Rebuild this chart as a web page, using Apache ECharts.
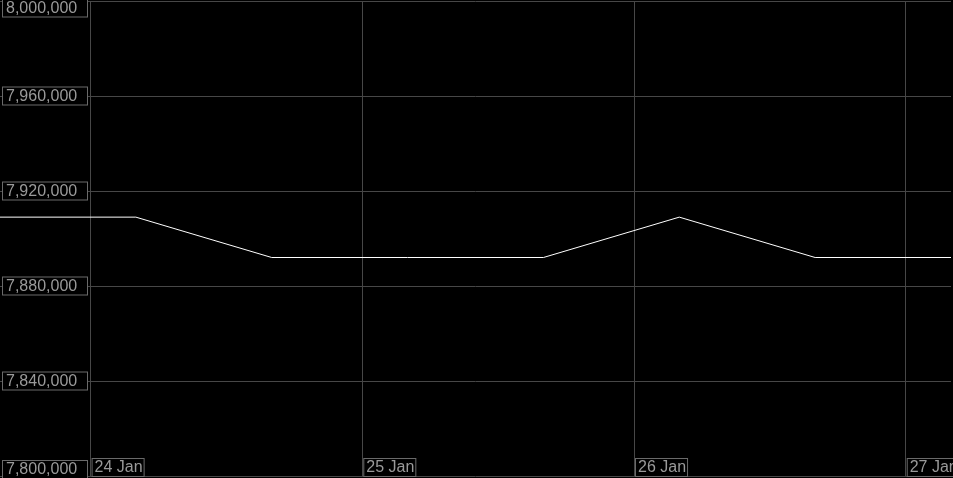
<!DOCTYPE html>
<html>
<head>
<meta charset="utf-8">
<style>
html,body{margin:0;padding:0;background:#000;}
#chart{width:953px;height:478px;}
</style>
<script src="https://cdn.jsdelivr.net/npm/echarts@6/dist/echarts.min.js"></script>
</head>
<body>
<div id="chart"></div>
<script>
// Data (local time stamps, 12-hourly)
const timeLabels = [
  '2024-01-23T16:00', '2024-01-24T04:00', '2024-01-24T16:00', '2024-01-25T04:00',
  '2024-01-25T16:00', '2024-01-26T04:00', '2024-01-26T16:00', '2024-01-27T04:00'
];
const values = [7909000, 7909000, 7892000, 7892000, 7892000, 7909000, 7892000, 7892000];
const yTicks = [7800000, 7840000, 7880000, 7920000, 7960000, 8000000];
const monthNames = ['Jan','Feb','Mar','Apr','May','Jun','Jul','Aug','Sep','Oct','Nov','Dec'];

function parseLocal(s) {
  const [d, t] = s.split('T');
  const [y, m, day] = d.split('-').map(Number);
  const [h, mi] = t.split(':').map(Number);
  return new Date(y, m - 1, day, h, mi).getTime();
}
const times = timeLabels.map(parseLocal);
const seriesData = times.map((t, i) => [t, values[i]]);

const chart = echarts.init(document.getElementById('chart'));
const FONT = "'Liberation Sans', Arial, sans-serif";
const yMin = yTicks[0], yMax = yTicks[yTicks.length - 1];

chart.setOption({
  backgroundColor: '#000',
  animation: false,
  grid: { left: 0, right: 2, top: 1, bottom: 2, containLabel: false, outerBoundsMode: 'none' },
  xAxis: {
    type: 'time',
    min: times[0],
    max: times[times.length - 1],
    minInterval: 86400000,
    maxInterval: 86400000,
    axisLine: { show: false },
    axisTick: { show: false },
    splitLine: { show: true, showMinLine: false, showMaxLine: false, lineStyle: { color: '#474747', width: 1 } },
    axisLabel: {
      inside: true,
      align: 'left',
      verticalAlign: 'bottom',
      margin: 1,
      showMinLabel: false,
      showMaxLabel: false,
      hideOverlap: false,
      padding: [0, 0, 0, 2],
      formatter: function (v) {
        const d = new Date(v);
        if (d.getHours() !== 0 || d.getMinutes() !== 0) return '';
        return '{b|' + d.getDate() + ' ' + monthNames[d.getMonth()] + '}';
      },
      rich: {
        b: {
          color: '#9a9a9a', fontSize: 16, fontFamily: FONT,
          borderColor: '#6a6a6a', borderWidth: 1, backgroundColor: '#000',
          padding: [1, 1, 0, 2], lineHeight: 15
        }
      }
    }
  },
  yAxis: {
    type: 'value',
    min: yMin,
    max: yMax,
    interval: 40000,
    axisLine: { show: false },
    axisTick: { show: false },
    splitLine: { show: true, lineStyle: { color: '#474747', width: 1 } },
    axisLabel: {
      inside: true,
      margin: 3,
      align: 'left',
      formatter: function (v) {
        const s = v.toLocaleString('en-US');
        if (v === yMax) return '{sp| }\n{b|' + s + '}';
        if (v === yMin) return '{b|' + s + '}\n{sp2| }';
        return '{b|' + s + '}';
      },
      rich: {
        b: {
          color: '#9a9a9a', fontSize: 16, fontFamily: FONT,
          borderColor: '#6a6a6a', borderWidth: 1, backgroundColor: '#000',
          padding: [1, 11, 0, 3], width: 70, lineHeight: 15
        },
        sp: { fontSize: 1, lineHeight: 14, height: 14 },
        sp2: { fontSize: 1, lineHeight: 13, height: 13 }
      }
    }
  },
  series: [{
    type: 'line',
    data: seriesData,
    showSymbol: false,
    symbol: 'none',
    lineStyle: { color: '#ffffff', width: 1 },
    silent: true
  }]
});
</script>
</body>
</html>
